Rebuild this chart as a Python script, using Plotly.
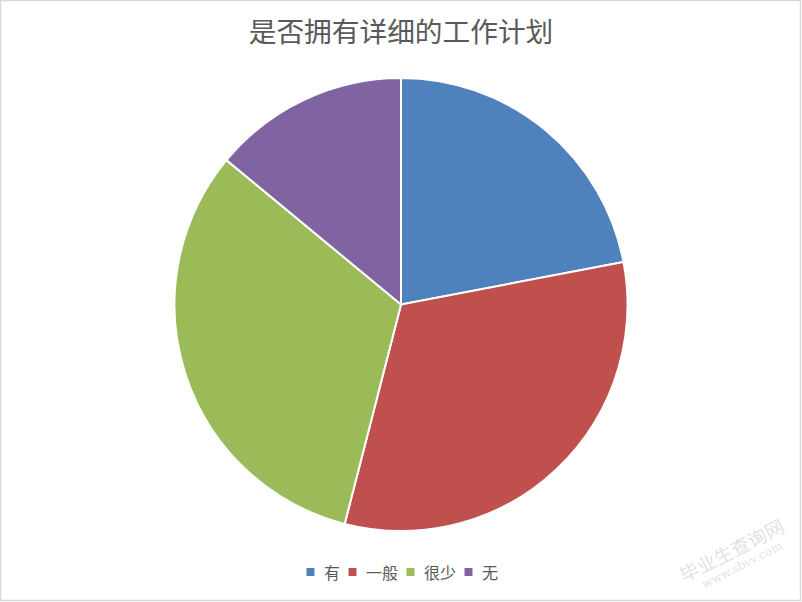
import plotly.graph_objects as go

title_text = "是否拥有详细的工作计划"
categories = ["有", "一般", "很少", "无"]
values = [22, 32, 32, 14]
colors = ["#4F81BD", "#C0504D", "#9BBB59", "#8064A2"]

W, H = 802, 602
top, bottom = 78, 71
plot_h = H - top - bottom

def py(p):
    return (H - bottom - p) / plot_h

def px(p):
    return p / W

fig = go.Figure(go.Pie(
    labels=categories,
    values=values,
    sort=False,
    direction="clockwise",
    rotation=0,
    textinfo="none",
    hoverinfo="label+value+percent",
    showlegend=False,
    marker=dict(colors=colors, line=dict(color="white", width=2)),
))

# custom legend (marker squares + labels) laid out like the reference
leg_font = 16
mk = 8
gap_after_mk = 7
gap_after_text = 11
total = sum(mk + gap_after_mk + leg_font * len(c) for c in categories) + gap_after_text * (len(categories) - 1)
x0 = 401 - total / 2
leg_y = 572
shapes = []
annotations = []
for c, col in zip(categories, colors):
    shapes.append(dict(type="rect", xref="paper", yref="paper",
                       x0=px(x0), x1=px(x0 + mk), y0=py(leg_y + mk / 2), y1=py(leg_y - mk / 2),
                       line=dict(width=0), fillcolor=col))
    annotations.append(dict(text=c, xref="paper", yref="paper", x=px(x0 + mk + gap_after_mk), y=py(leg_y),
                            xanchor="left", yanchor="middle", showarrow=False,
                            font=dict(size=leg_font, color="#595959")))
    x0 += mk + gap_after_mk + leg_font * len(c) + gap_after_text

shapes.append(dict(type="rect", xref="paper", yref="paper",
                   x0=px(0.5), x1=px(800.5), y0=py(600.5), y1=py(0.5),
                   line=dict(color="#D9D9D9", width=1.5), fillcolor="rgba(0,0,0,0)"))

annotations += [
    dict(text="毕业生查询网", xref="paper", yref="paper", x=px(731), y=py(549),
         xanchor="center", yanchor="middle",
         showarrow=False, textangle=-27, font=dict(size=19, color="rgba(150,150,150,0.3)")),
    dict(text="www.sbvv.com", xref="paper", yref="paper", x=px(742), y=py(565),
         xanchor="center", yanchor="middle",
         showarrow=False, textangle=-27, font=dict(size=12, family="DejaVu Serif", color="rgba(150,150,150,0.3)")),
]

fig.update_layout(
    width=W, height=H,
    margin=dict(l=0, r=0, t=top, b=bottom),
    paper_bgcolor="white",
    plot_bgcolor="white",
    font=dict(family="Noto Sans CJK SC, sans-serif", color="#595959"),
    title=dict(text=title_text, x=0.5, xanchor="center", y=1 - 32 / H, yanchor="middle",
               yref="container", font=dict(size=27.7, color="#595959")),
    shapes=shapes,
    annotations=annotations,
)

fig.write_html("out.html", config={"displayModeBar": False},
               post_script="document.body.style.margin='0';")
